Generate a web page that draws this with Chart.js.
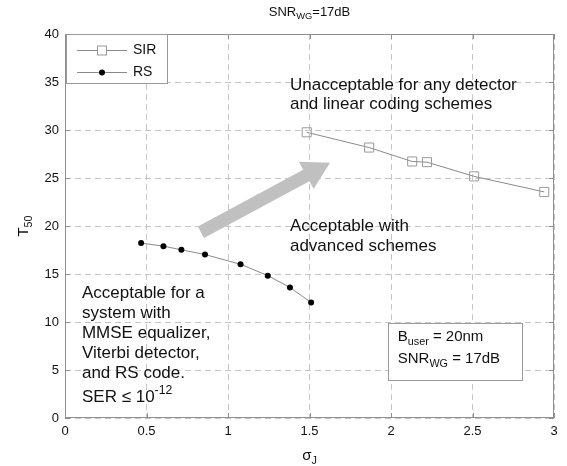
<!DOCTYPE html>
<html>
<head>
<meta charset="utf-8">
<script src="https://cdn.jsdelivr.net/npm/chart.js@4.4.1/dist/chart.umd.min.js"></script>
<style>
html, body { margin: 0; padding: 0; background: #fff; }
#wrap { width: 567px; height: 466px; position: relative; }
</style>
</head>
<body>
<div id="wrap"><canvas id="chart"></canvas></div>
<script>
const sirX = [1.483, 1.866, 2.130, 2.221, 2.51, 2.94]
const sirY = [29.76, 28.17, 26.72, 26.65, 25.17, 23.55]
const rsX = [0.467, 0.604, 0.714, 0.859, 1.077, 1.244, 1.380, 1.51]
const rsY = [18.22, 17.9, 17.52, 17.03, 16.01, 14.83, 13.6, 12.03]
const seriesNames = ["SIR", "RS"]
const xRange = [0, 3]
const yRange = [0, 40]

const FONT = "'Liberation Sans', Arial, sans-serif"
const font = s => s + "px " + FONT

function richText(ctx, parts, px, py, size, align) {
    let total = 0
    const items = parts.map(p => {
        const s = (p.sub || p.sup) ? size * 0.72 : size
        ctx.font = font(s)
        const w = ctx.measureText(p.t).width
        total += w
        return { ...p, s, w }
    })
    let cx = align === "center" ? px - total / 2 : px
    ctx.textAlign = "left"
    ctx.textBaseline = "middle"
    items.forEach(p => {
        ctx.font = font(p.s)
        const dy = p.sub ? size * 0.32 : p.sup ? -size * 0.4 : 0
        ctx.fillText(p.t, cx, py + dy)
        cx += p.w
    })
}

const decor = {
    id: "decor",
    afterDraw(chart) {
        const { ctx, chartArea: a, scales: { x, y } } = chart
        ctx.save()

        // axes box + inward ticks
        ctx.strokeStyle = "#8f8f8f"
        ctx.lineWidth = 1
        ctx.strokeRect(a.left + 0.5, a.top + 0.5, a.right - a.left - 1, a.bottom - a.top - 1)
        ctx.beginPath()
        x.ticks.forEach(t => {
            const px = Math.round(x.getPixelForValue(t.value)) + 0.5
            ctx.moveTo(px, a.bottom); ctx.lineTo(px, a.bottom - 5)
            ctx.moveTo(px, a.top); ctx.lineTo(px, a.top + 5)
        })
        y.ticks.forEach(t => {
            const py = Math.round(y.getPixelForValue(t.value)) + 0.5
            ctx.moveTo(a.left, py); ctx.lineTo(a.left + 5, py)
            ctx.moveTo(a.right, py); ctx.lineTo(a.right - 5, py)
        })
        ctx.stroke()

        // big grey arrow
        const tx = x.getPixelForValue(0.834), ty = y.getPixelForValue(19.34)
        const hx = x.getPixelForValue(1.626), hy = y.getPixelForValue(26.6)
        const len = Math.hypot(hx - tx, hy - ty)
        const ux = (hx - tx) / len, uy = (hy - ty) / len
        const nx = -uy, ny = ux
        const sw = 6.5, hw = 15.5, hl = 27
        const bx = hx - ux * hl, by = hy - uy * hl
        ctx.fillStyle = "#c0c0c0"
        ctx.beginPath()
        ctx.moveTo(tx + nx * sw, ty + ny * sw)
        ctx.lineTo(bx + nx * sw, by + ny * sw)
        ctx.lineTo(bx + nx * hw, by + ny * hw)
        ctx.lineTo(hx, hy)
        ctx.lineTo(bx - nx * hw, by - ny * hw)
        ctx.lineTo(bx - nx * sw, by - ny * sw)
        ctx.lineTo(tx - nx * sw, ty - ny * sw)
        ctx.closePath()
        ctx.fill()

        ctx.fillStyle = "#111"
        // annotations
        const ux1 = x.getPixelForValue(1.38)
        richText(ctx, [{ t: "Unacceptable for any detector" }], ux1, y.getPixelForValue(34.7), 17, "left")
        richText(ctx, [{ t: "and linear coding schemes" }], ux1, y.getPixelForValue(34.7) + 19.5, 17, "left")
        richText(ctx, [{ t: "Acceptable with" }], ux1, y.getPixelForValue(20.0), 17, "left")
        richText(ctx, [{ t: "advanced schemes" }], ux1, y.getPixelForValue(20.0) + 20, 17, "left")

        const lx = x.getPixelForValue(0.104)
        const ly = y.getPixelForValue(12.95)
        const block = ["Acceptable for a", "system with", "MMSE equalizer,", "Viterbi detector,", "and RS code."]
        block.forEach((s, i) => richText(ctx, [{ t: s }], lx, ly + i * 20, 17, "left"))
        richText(ctx, [{ t: "SER \u2264 10" }, { t: "-12", sup: true }], lx, ly + 5 * 20 + 4, 17, "left")

        // parameter box
        const b0 = x.getPixelForValue(1.98), b1 = x.getPixelForValue(2.804)
        const c0 = y.getPixelForValue(9.9), c1 = y.getPixelForValue(3.96)
        ctx.fillStyle = "#fff"
        ctx.fillRect(b0, c0, b1 - b0, c1 - c0)
        ctx.strokeStyle = "#9a9a9a"
        ctx.strokeRect(Math.round(b0) + 0.5, Math.round(c0) + 0.5, Math.round(b1 - b0), Math.round(c1 - c0))
        ctx.fillStyle = "#111"
        richText(ctx, [{ t: "B" }, { t: "user", sub: true }, { t: " = 20nm" }], b0 + 10, c0 + 14, 15, "left")
        richText(ctx, [{ t: "SNR" }, { t: "WG", sub: true }, { t: " = 17dB" }], b0 + 10, c0 + 36, 15, "left")

        // legend
        const gx = a.left + 1, gy = a.top
        ctx.fillStyle = "#fff"
        ctx.fillRect(gx, gy, 101, 49)
        ctx.strokeStyle = "#9a9a9a"
        ctx.strokeRect(gx + 0.5, gy + 0.5, 101, 49)
        const rows = [gy + 16, gy + 38]
        ctx.strokeStyle = "#8a8a8a"
        rows.forEach(r => {
            ctx.beginPath(); ctx.moveTo(gx + 11, r + 0.5); ctx.lineTo(gx + 61, r + 0.5); ctx.stroke()
        })
        ctx.fillStyle = "#fff"
        ctx.fillRect(gx + 31, rows[0] - 4.5, 9, 9)
        ctx.strokeStyle = "#999"
        ctx.strokeRect(gx + 31.5, rows[0] - 4, 9, 9)
        ctx.fillStyle = "#000"
        ctx.beginPath(); ctx.arc(gx + 36, rows[1] + 0.5, 3, 0, Math.PI * 2); ctx.fill()
        ctx.fillStyle = "#111"
        seriesNames.forEach((n, i) => richText(ctx, [{ t: n }], gx + 67, rows[i], 14, "left"))

        // titles
        const mid = (a.left + a.right) / 2
        richText(ctx, [{ t: "SNR" }, { t: "WG", sub: true }, { t: "=17dB" }], mid, 12, 13, "center")
        richText(ctx, [{ t: "\u03c3" }, { t: "J", sub: true }], mid, 456, 15, "center")
        ctx.save()
        ctx.translate(24, (a.top + a.bottom) / 2)
        ctx.rotate(-Math.PI / 2)
        richText(ctx, [{ t: "T" }, { t: "50", sub: true }], 0, 0, 15, "center")
        ctx.restore()

        ctx.restore()
    }
}

const gridStyle = { color: "#c6c6c6", drawTicks: false, lineWidth: 1 }
const borderStyle = { display: false, dash: [6, 4] }
const tickStyle = {
    color: "#111",
    font: { family: FONT, size: 13 },
    padding: 6,
    callback: v => String(+v.toFixed(2))
}

new Chart(document.getElementById("chart"), {
    type: "line",
    data: {
        datasets: [
            {
                label: seriesNames[0],
                data: sirX.map((v, i) => ({ x: v, y: sirY[i] })),
                borderColor: "#8a8a8a",
                borderWidth: 1,
                pointStyle: "rect",
                pointRadius: 6.4,
                pointBorderColor: "#9a9a9a",
                pointBackgroundColor: "rgba(255,255,255,0)",
                pointBorderWidth: 1,
                tension: 0
            },
            {
                label: seriesNames[1],
                data: rsX.map((v, i) => ({ x: v, y: rsY[i] })),
                borderColor: "#8a8a8a",
                borderWidth: 1,
                pointStyle: "circle",
                pointRadius: 3,
                pointBorderWidth: 0,
                pointBackgroundColor: "#000",
                tension: 0
            }
        ]
    },
    options: {
        responsive: true,
        maintainAspectRatio: false,
        animation: false,
        devicePixelRatio: 1,
        layout: { padding: { top: 34, right: 13, left: 0, bottom: 0 } },
        plugins: { legend: { display: false }, tooltip: { enabled: false } },
        scales: {
            x: {
                type: "linear",
                min: xRange[0],
                max: xRange[1],
                ticks: { ...tickStyle, stepSize: 0.5 },
                grid: gridStyle,
                border: borderStyle,
                afterFit: s => { s.height = 48 }
            },
            y: {
                type: "linear",
                min: yRange[0],
                max: yRange[1],
                ticks: { ...tickStyle, stepSize: 5 },
                grid: gridStyle,
                border: borderStyle,
                afterFit: s => { s.width = 65 }
            }
        }
    },
    plugins: [decor]
})
</script>
</body>
</html>
